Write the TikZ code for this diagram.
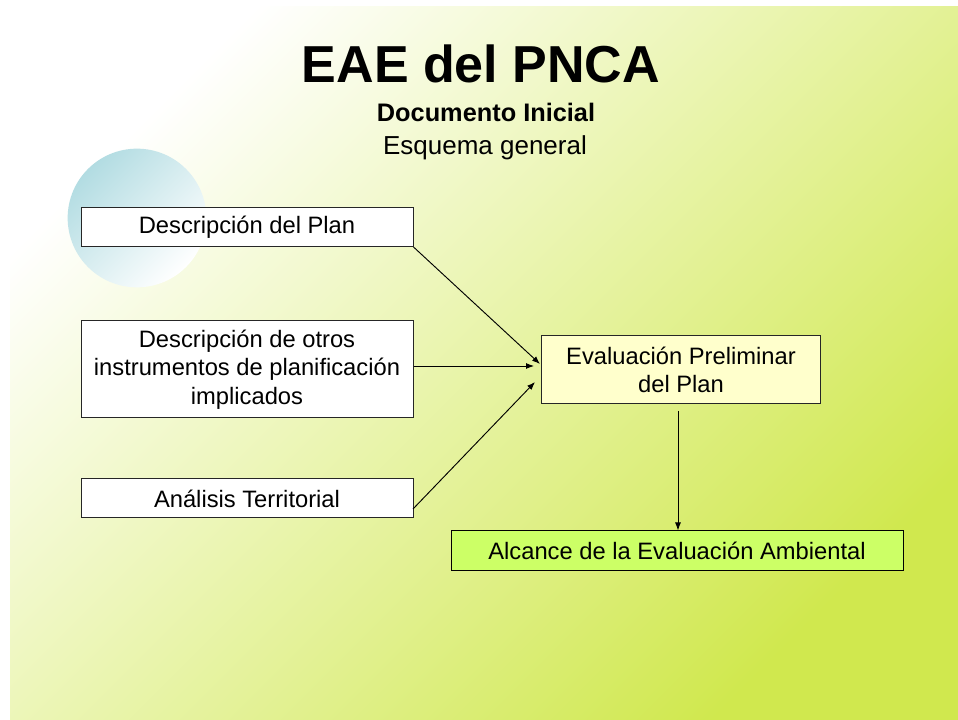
\documentclass[tikz,border=0pt]{standalone}
\usepackage{fontspec}
\setmainfont{Liberation Sans}
\usetikzlibrary{arrows.meta}
\definecolor{bgend}{RGB}{208,232,78}
\definecolor{bgmid}{RGB}{236,246,200}
\definecolor{circ}{RGB}{178,220,226}
\definecolor{evfill}{RGB}{255,255,204}
\definecolor{alfill}{RGB}{204,255,102}
\begin{document}
\begin{tikzpicture}[x=0.75pt,y=-0.75pt,
  boxstyle/.style={draw=black!85, line width=0.75pt, fill=white, align=center, inner sep=0pt,
    font=\fontsize{17.8}{21.4}\selectfont, minimum width=249pt},
  arr/.style={-{Latex[length=6pt,width=4.5pt]}, line width=0.7pt, black}]
\useasboundingbox (0,0) rectangle (958,720);
% background
\shade[top color=white, middle color=bgmid, bottom color=bgend, shading angle=45] (10,7) rectangle (958,720);
% decorative circle
\shade[top color=circ, bottom color=white, shading angle=45] (137,218) circle[radius=52pt];
% titles
\node[anchor=base, font=\fontsize{39}{44}\selectfont\bfseries] (title) at (481,83) {EAE del PNCA};
\node[anchor=base, font=\fontsize{19}{23}\selectfont\bfseries] (sub1) at (486,122) {Documento Inicial};
\node[anchor=base, font=\fontsize{19.5}{23}\selectfont] (sub2) at (485,155) {Esquema general};
% boxes
\node[boxstyle, minimum height=29.25pt] (b1) at (247,227) {Descripción del Plan};
\node[boxstyle, minimum height=72.75pt] (b2) at (247,369.5) {Descripción de otros\\instrumentos de planificación\\implicados};
\node[boxstyle, minimum height=29.25pt] (b3) at (247,498.5) {Análisis Territorial};
\node[boxstyle, fill=evfill, minimum width=209.25pt, minimum height=51pt] (ev) at (681,370) {Evaluación Preliminar\\del Plan};
\node[boxstyle, fill=alfill, draw=black, minimum width=339pt, minimum height=30pt] (al) at (677,551) {Alcance de la Evaluación Ambiental};
% arrow ends
\coordinate (e1) at (540,364);
\coordinate (e2) at (534,366);
\coordinate (e3) at (535,382);
\coordinate (s3) at (413,509);
\coordinate (s4) at (678,411);
% arrows
\draw[arr] (b1.south east) -- (e1);
\draw[arr] (b2.east |- e2) -- (e2);
\draw[arr] (s3) -- (e3);
\draw[arr] (s4) -- (s4 |- al.north);
\end{tikzpicture}
\end{document}
